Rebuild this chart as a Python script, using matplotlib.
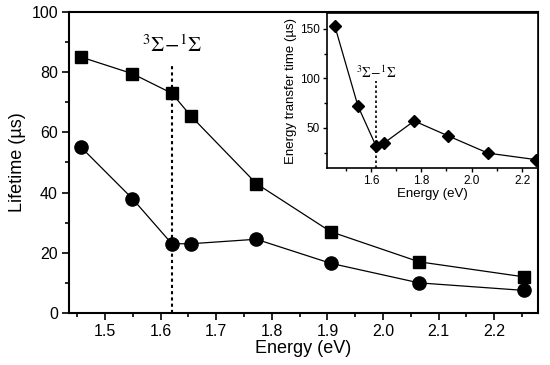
import matplotlib
matplotlib.use("Agg")
import matplotlib.pyplot as plt
from matplotlib.ticker import MultipleLocator

plt.rcParams["font.family"] = ["Liberation Sans", "DejaVu Sans"]
plt.rcParams["mathtext.fontset"] = "stix"

# Data
energy = [1.457, 1.549, 1.62, 1.654, 1.772, 1.906, 2.065, 2.254]
lifetime_sq = [85, 79.5, 73, 65.5, 43, 27, 17, 12]
lifetime_circ = [55, 38, 23, 23, 24.5, 16.5, 10, 7.5]
transfer_time = [153, 72, 32, 35, 57, 42, 24.5, 18]
crossing = 1.62
crossing_label = r"$^3\Sigma\!-\!^1\Sigma$"

fig = plt.figure(figsize=(5.5, 3.65), dpi=100)
ax = fig.add_axes([0.1255, 0.1425, 0.8527, 0.8247])

ax.plot(energy, lifetime_sq, "-s", color="black", lw=0.9, ms=9)
ax.plot(energy, lifetime_circ, "-o", color="black", lw=0.9, ms=9.5)
ax.plot([crossing, crossing], [0, 82], ls=(0, (1.5, 1.5)), color="black", lw=1.5)
ax.text(crossing, 89, crossing_label, ha="center", va="center", fontsize=15)

ax.set_xlim(1.435, 2.279)
ax.set_ylim(0, 100)
ax.xaxis.set_major_locator(MultipleLocator(0.1))
ax.xaxis.set_minor_locator(MultipleLocator(0.05))
ax.yaxis.set_major_locator(MultipleLocator(20))
ax.yaxis.set_minor_locator(MultipleLocator(10))
ax.tick_params(which="major", length=5, width=1.2, labelsize=11.5, pad=3)
ax.tick_params(which="minor", length=3, width=1.2)
ax.set_xlabel("Energy (eV)", fontsize=13, labelpad=1)
ax.set_ylabel("Lifetime (\u00b5s)", fontsize=13, labelpad=4)
for s in ax.spines.values():
    s.set_linewidth(1.5)

# Inset
ins = fig.add_axes([0.5945, 0.5397, 0.3836, 0.4247])
ins.plot(energy, transfer_time, "-D", color="black", lw=0.9, ms=6)
ins.plot([crossing, crossing], [10, 97], ls=(0, (1.5, 1.5)), color="black", lw=1.2)
ins.text(crossing, 106, crossing_label, ha="center", va="center", fontsize=10)
ins.set_xlim(1.426, 2.263)
ins.set_ylim(9.5, 166)
ins.xaxis.set_major_locator(MultipleLocator(0.2))
ins.xaxis.set_minor_locator(MultipleLocator(0.1))
ins.yaxis.set_major_locator(MultipleLocator(50))
ins.yaxis.set_minor_locator(MultipleLocator(25))
ins.tick_params(which="major", length=3, width=1, labelsize=8.5, pad=2)
ins.tick_params(which="minor", length=2, width=1)
ins.set_xlabel("Energy (eV)", fontsize=9.5, labelpad=1)
ins.set_ylabel("Energy transfer time (\u00b5s)", fontsize=9.5, labelpad=2)
for s in ins.spines.values():
    s.set_linewidth(1.2)

fig.savefig("out.png", dpi=100)
